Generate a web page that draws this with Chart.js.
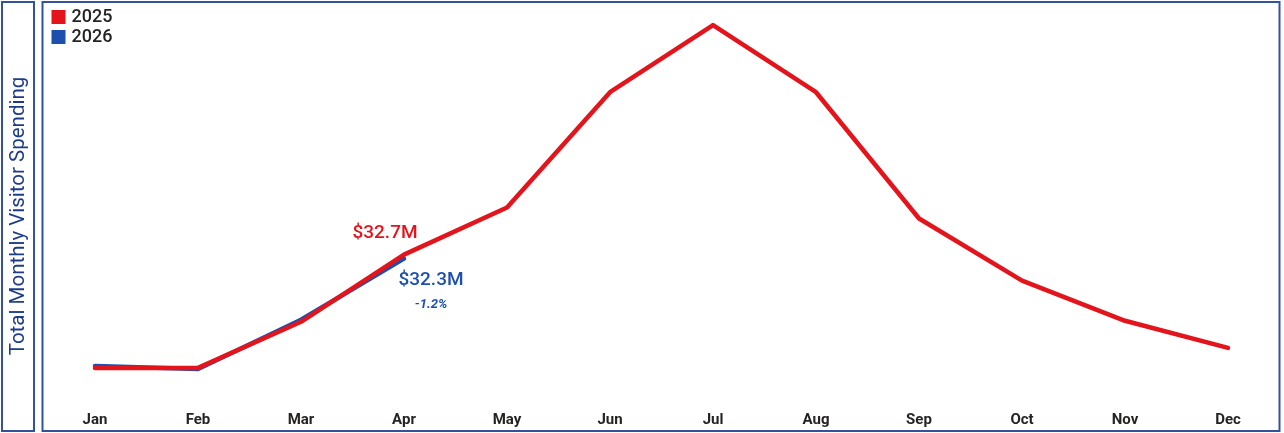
<!DOCTYPE html>
<html>
<head>
<meta charset="utf-8">
<script src="https://cdn.jsdelivr.net/npm/chart.js@4.4.1/dist/chart.umd.min.js"></script>
<style>
  html, body { margin: 0; padding: 0; background: #fff; }
  canvas { display: block; }
</style>
</head>
<body>
<canvas id="spend" width="1284" height="433"></canvas>
<script>
// monthly visitor spending, $M
const months = ['Jan', 'Feb', 'Mar', 'Apr', 'May', 'Jun', 'Jul', 'Aug', 'Sep', 'Oct', 'Nov', 'Dec'];
const spend2025 = [21.4, 21.4, 26.0, 32.7, 37.4, 48.9, 55.6, 48.9, 36.3, 30.1, 26.1, 23.4];
const spend2026 = [21.6, 21.3, 26.2, 32.3];
const seriesNames = ['2025', '2026'];
const yTitle = 'Total Monthly Visitor Spending';
const latestIdx = spend2026.length - 1;   // last month with 2026 data

const RED = '#e3141c';
const BLUE = '#1c4fae';
const FRAME = '#34529c';
const FONT = 'Roboto, "DejaVu Sans", sans-serif';

const fmtM = v => '$' + v.toFixed(1) + 'M';

// panel frames + rotated axis title
const frames = {
    id: 'frames',
    beforeDraw(chart) {
        const { ctx, chartArea } = chart;
        ctx.save();
        ctx.strokeStyle = FRAME;
        ctx.lineWidth = 2;
        ctx.strokeRect(2, 2, 32, 429);
        ctx.strokeRect(chartArea.left - 1, 2, chartArea.right - chartArea.left + 1, 429);

        ctx.translate(18, 216);
        ctx.rotate(-Math.PI / 2);
        ctx.fillStyle = '#1e3c8c';
        ctx.font = '20.5px ' + FONT;
        ctx.textAlign = 'center';
        ctx.textBaseline = 'middle';
        ctx.fillText(yTitle, 0, 1);
        ctx.restore();
    }
};

// legend in the top-left corner and the value callouts for the latest month
const callouts = {
    id: 'callouts',
    afterDatasetsDraw(chart) {
        const { ctx, chartArea } = chart;
        const x = chart.scales.x, y = chart.scales.y;
        ctx.save();

        chart.data.datasets.forEach((ds, i) => {
            const top = chartArea.top + 8 + i * 20;
            ctx.fillStyle = ds.borderColor;
            ctx.fillRect(chartArea.left + 8, top, 14, 14);
            ctx.fillStyle = '#252423';
            ctx.font = '500 18px ' + FONT;
            ctx.textAlign = 'left';
            ctx.textBaseline = 'middle';
            ctx.fillText(ds.label, chartArea.left + 28, top + 7.5);
        });

        const prev = spend2025[latestIdx], cur = spend2026[latestIdx];
        const px = x.getPixelForValue(latestIdx);
        ctx.textAlign = 'center';
        ctx.textBaseline = 'middle';

        ctx.fillStyle = RED;
        ctx.font = '500 19px ' + FONT;
        ctx.fillText(fmtM(prev), px - 19, y.getPixelForValue(prev) - 21);

        ctx.fillStyle = BLUE;
        ctx.fillText(fmtM(cur), px + 27, y.getPixelForValue(cur) + 22);

        const pct = (cur / prev - 1) * 100;
        ctx.font = 'italic bold 13px ' + FONT;
        ctx.fillText(pct.toFixed(1) + '%', px + 27, y.getPixelForValue(cur) + 46);
        ctx.restore();
    }
};

new Chart(document.getElementById('spend'), {
    type: 'line',
    data: {
        labels: months,
        datasets: [
            { label: seriesNames[0], data: spend2025, borderColor: RED, backgroundColor: RED, borderWidth: 4.5 },
            { label: seriesNames[1], data: spend2026, borderColor: BLUE, backgroundColor: BLUE, borderWidth: 4.5 }
        ]
    },
    options: {
        responsive: false,
        animation: false,
        layout: { padding: { left: 43.5, right: 4.5, top: 2, bottom: 0 } },
        elements: {
            line: { tension: 0, borderJoinStyle: 'round', borderCapStyle: 'round' },
            point: { radius: 0, hoverRadius: 0 }
        },
        plugins: {
            legend: { display: false },
            tooltip: { enabled: false }
        },
        scales: {
            x: {
                offset: true,
                grid: { display: false, drawTicks: false },
                border: { display: false },
                ticks: {
                    padding: 4,
                    color: '#252423',
                    font: { family: FONT, size: 15, weight: 'bold' }
                }
            },
            y: {
                display: false,
                min: 17.5,
                max: 57.9
            }
        }
    },
    plugins: [frames, callouts]
});
</script>
</body>
</html>
